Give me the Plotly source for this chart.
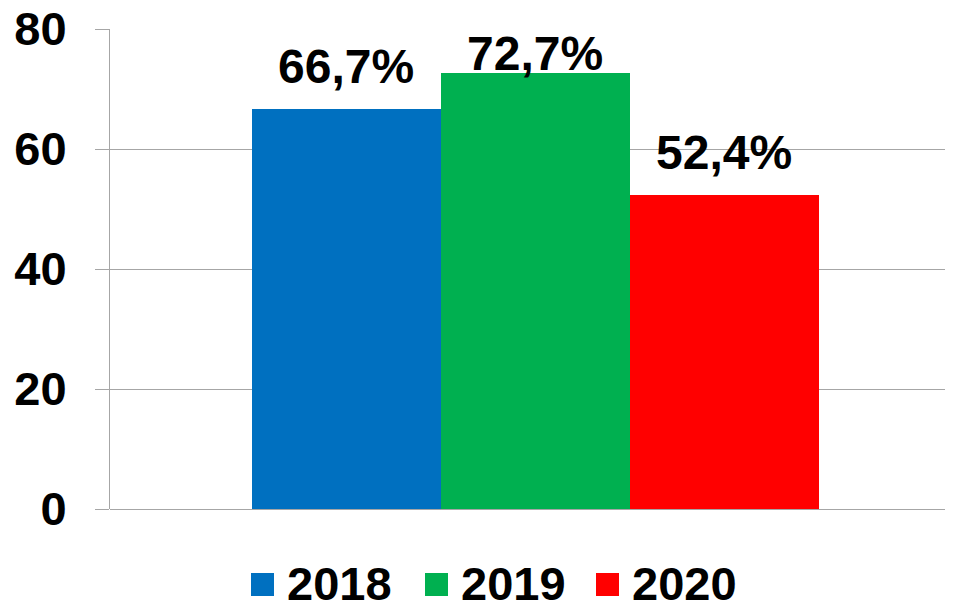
import plotly.graph_objects as go

years = ["2018", "2019", "2020"]
values = [66.7, 72.7, 52.4]
labels = ["66,7%", "72,7%", "52,4%"]
colors = ["#0070C0", "#00B050", "#FF0000"]
y_ticks = [0, 20, 40, 60, 80]

# page body has an 8px margin: the figure is drawn offset by (8, 8)
OFF = 8
W, H = 953 - OFF, 602 - OFF
ML, MR, MT, MB = 110 - OFF, 0, 29 - OFF, 93
PW, PH = W - ML - MR, H - MT - MB
FONT = "Liberation Sans, Arial, sans-serif"

def px_x(px):
    return (px - OFF - ML) / PW

def px_y(py):
    return (H - MB - (py - OFF)) / PH

fig = go.Figure()
fig.add_trace(go.Bar(
    x=years, y=values,
    marker=dict(color=colors, line=dict(width=0)),
    showlegend=False, hoverinfo="skip",
))

# data labels (Excel-style, clamped near the top of the plot)
annotations = []
for i, (v, lab) in enumerate(zip(values, labels)):
    ly = min(v + 7.1, 76.0)
    annotations.append(dict(
        x=i, y=ly, xref="x", yref="y", text=lab, showarrow=False,
        xanchor="center", yanchor="middle",
        font=dict(family=FONT, size=48, color="black", weight="bold"),
    ))

# manual legend
leg_sq_x = [251, 425, 596]
shapes = []
for i, (yr, c) in enumerate(zip(years, colors)):
    x0 = leg_sq_x[i]
    shapes.append(dict(
        type="rect", xref="paper", yref="paper",
        x0=px_x(x0), x1=px_x(x0 + 23), y0=px_y(596), y1=px_y(573),
        fillcolor=c, line=dict(width=0),
    ))
    annotations.append(dict(
        x=px_x(x0 + 34), y=px_y(583), xref="paper", yref="paper",
        text=yr, showarrow=False, xanchor="left", yanchor="middle",
        font=dict(family=FONT, size=47, color="black", weight="bold"),
    ))

fig.update_layout(
    width=W, height=H,
    margin=dict(l=ML, r=MR, t=MT, b=MB, autoexpand=False),
    paper_bgcolor="white", plot_bgcolor="white",
    bargap=0,
    showlegend=False,
    annotations=annotations,
    shapes=shapes,
    font=dict(family=FONT, color="black"),
    xaxis=dict(
        type="category", range=[-1.251, 3.209],
        showticklabels=False, showgrid=False, zeroline=False,
        showline=False, ticks="", automargin=False,
    ),
    yaxis=dict(
        range=[0, 80], tickvals=y_ticks, automargin=False,
        showgrid=True, gridcolor="#A6A6A6", gridwidth=1,
        zeroline=True, zerolinecolor="#A6A6A6", zerolinewidth=1,
        showline=True, linecolor="#A6A6A6", linewidth=1,
        ticks="outside", ticklen=14, tickcolor="#A6A6A6", tickwidth=1,
        ticklabelstandoff=19, ticklabeloverflow="allow",
        tickfont=dict(family=FONT, size=47, color="black", weight="bold"),
        fixedrange=True,
    ),
)

fig.write_html("out.html")
